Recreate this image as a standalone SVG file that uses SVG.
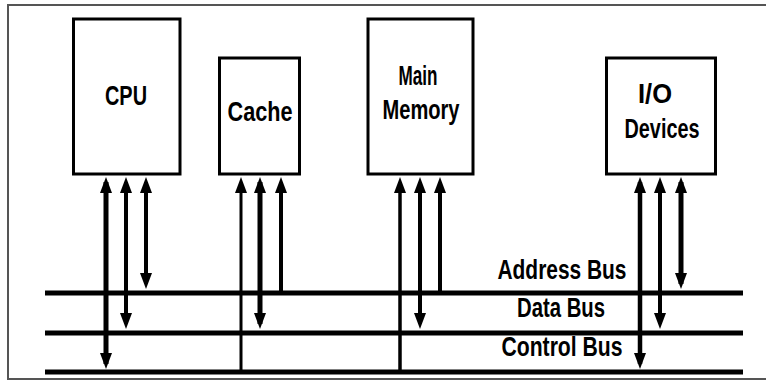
<svg xmlns="http://www.w3.org/2000/svg" width="766" height="381" viewBox="0 0 766 381">
  <style>
    .frame { fill: none; stroke: #555; stroke-width: 2; }
    .box { fill: #fff; stroke: #000; stroke-width: 3; }
    .bus { stroke: #000; stroke-width: 5; }
    .wire { stroke: #000; fill: none; }
    .lbl { font-family: "Liberation Sans", Arial, sans-serif; font-weight: bold; font-size: 27px; fill: #000; text-anchor: middle; }
  </style>
  <defs>
    <marker id="ah" viewBox="0 0 16 12" refX="11" refY="6" markerWidth="16" markerHeight="12" markerUnits="userSpaceOnUse" orient="auto-start-reverse">
      <path d="M0,0 L16,6 L0,12 Z" fill="#000"/>
    </marker>
  </defs>
  <rect x="0" y="0" width="766" height="381" fill="#fff"/>
  <path class="frame" d="M767,5 H8 V379 H767"/>

  <g id="cpu">
    <rect class="box" x="73.5" y="19" width="106.5" height="155"/>
    <text class="lbl" x="126" y="105" textLength="42" lengthAdjust="spacingAndGlyphs">CPU</text>
  </g>
  <g id="cache">
    <rect class="box" x="219.5" y="58" width="80" height="116"/>
    <text class="lbl" x="260" y="121" textLength="65" lengthAdjust="spacingAndGlyphs">Cache</text>
  </g>
  <g id="main-memory">
    <rect class="box" x="368" y="19" width="105" height="155"/>
    <text class="lbl" x="418" y="85" textLength="39" lengthAdjust="spacingAndGlyphs">Main</text>
    <text class="lbl" x="421" y="119" textLength="77" lengthAdjust="spacingAndGlyphs">Memory</text>
  </g>
  <g id="io-devices">
    <rect class="box" x="606.5" y="58" width="109" height="116"/>
    <text class="lbl" x="655" y="103" textLength="34" lengthAdjust="spacingAndGlyphs">I/O</text>
    <text class="lbl" x="662" y="138" textLength="75" lengthAdjust="spacingAndGlyphs">Devices</text>
  </g>

  <g id="buses">
    <line class="bus" x1="45" y1="293" x2="743" y2="293"/>
    <line class="bus" x1="45" y1="333" x2="743" y2="333"/>
    <line class="bus" x1="45" y1="372" x2="743" y2="372"/>
    <text class="lbl" x="562" y="279" textLength="129" lengthAdjust="spacingAndGlyphs">Address Bus</text>
    <text class="lbl" x="561" y="317" textLength="88" lengthAdjust="spacingAndGlyphs">Data Bus</text>
    <text class="lbl" x="562" y="356" textLength="121" lengthAdjust="spacingAndGlyphs">Control Bus</text>
  </g>

  <g id="connectors">
    <!-- CPU -->
    <line class="wire" stroke-width="5" x1="106" y1="182" x2="106" y2="364" marker-start="url(#ah)" marker-end="url(#ah)"/>
    <line class="wire" stroke-width="4" x1="126" y1="182" x2="126" y2="324" marker-start="url(#ah)" marker-end="url(#ah)"/>
    <line class="wire" stroke-width="4" x1="146" y1="182" x2="146" y2="284" marker-start="url(#ah)" marker-end="url(#ah)"/>
    <!-- Cache -->
    <line class="wire" stroke-width="3" x1="241" y1="182" x2="241" y2="372" marker-start="url(#ah)"/>
    <line class="wire" stroke-width="5" x1="260" y1="182" x2="260" y2="324" marker-start="url(#ah)" marker-end="url(#ah)"/>
    <line class="wire" stroke-width="4" x1="281" y1="182" x2="281" y2="293" marker-start="url(#ah)"/>
    <!-- Main Memory -->
    <line class="wire" stroke-width="3.5" x1="400" y1="182" x2="400" y2="372" marker-start="url(#ah)"/>
    <line class="wire" stroke-width="4" x1="420" y1="182" x2="420" y2="324" marker-start="url(#ah)" marker-end="url(#ah)"/>
    <line class="wire" stroke-width="4" x1="440" y1="182" x2="440" y2="293" marker-start="url(#ah)"/>
    <!-- I/O -->
    <line class="wire" stroke-width="4.5" x1="640" y1="182" x2="640" y2="364" marker-start="url(#ah)" marker-end="url(#ah)"/>
    <line class="wire" stroke-width="4" x1="660" y1="182" x2="660" y2="324" marker-start="url(#ah)" marker-end="url(#ah)"/>
    <line class="wire" stroke-width="5" x1="681" y1="182" x2="681" y2="284" marker-start="url(#ah)" marker-end="url(#ah)"/>
  </g>
</svg>
